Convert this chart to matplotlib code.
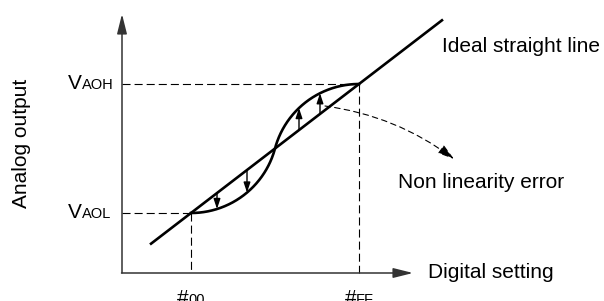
import numpy as np
import matplotlib.pyplot as plt

plt.rcParams['font.family'] = ['Liberation Sans', 'DejaVu Sans']
plt.rcParams['lines.scale_dashes'] = False

# diagram drawn in pixel-like units (y grows downward)
code_x = [191, 359]          # positions of #00 and #FF
code_main = ['#', '#']
code_sub = ['00', 'FF']
level_y = [213, 84]          # V_AOL, V_AOH
level_sub = ['AOL', 'AOH']
ideal_x = [150, 443]         # extent of the ideal straight line
error_x = [217, 247, 299, 320]  # where the error arrows sit

x0, x1 = code_x
y0, y1 = level_y
slope = (y1 - y0) / (x1 - x0)


def ideal(x):
    return y0 + slope * (np.asarray(x) - x0)


# S-shaped real characteristic: two circular arcs, flat at both ends
xm, ym = (x0 + x1) / 2, (y0 + y1) / 2
R = ((xm - x0) ** 2 + (y0 - ym) ** 2) / (2 * (y0 - ym))


def real(x):
    x = np.asarray(x, dtype=float)
    low = (y0 - R) + np.sqrt(np.clip(R ** 2 - (x - x0) ** 2, 0, None))
    high = (y1 + R) - np.sqrt(np.clip(R ** 2 - (x1 - x) ** 2, 0, None))
    return np.where(x <= xm, low, high)


fig = plt.figure(figsize=(6.04, 3.01), dpi=100)
ax = fig.add_axes([0, 0, 1, 1])
ax.set_xlim(0, 604)
ax.set_ylim(301, 0)
ax.axis('off')

axis_col = '#333333'
head = '-|>,head_length=1.2,head_width=0.3'
ax.annotate('', xy=(122, 14), xytext=(122, 273),
            arrowprops=dict(arrowstyle=head, mutation_scale=10, lw=1.1,
                            color=axis_col, shrinkA=0, shrinkB=0))
ax.annotate('', xy=(413, 273), xytext=(121.5, 273),
            arrowprops=dict(arrowstyle=head, mutation_scale=10, lw=1.1,
                            color=axis_col, shrinkA=0, shrinkB=0))

# dashed guides
dash = (0, (5.8, 2.9))
for x, y in zip(code_x, level_y):
    ax.plot([122, x], [y, y], color='black', lw=0.8, ls=dash)
    ax.plot([x, x], [y, 273], color='black', lw=0.8, ls=dash)

# ideal line and real curve
ax.plot(ideal_x, ideal(ideal_x), color='black', lw=1.9, solid_capstyle='butt')
xs = np.linspace(x0, x1, 400)
ax.plot(xs, real(xs), color='black', lw=1.9)

# error arrows from the ideal line to the curve
for x in error_x:
    ax.annotate('', xy=(x, real(x)), xytext=(x, ideal(x)),
                arrowprops=dict(arrowstyle='-|>,head_length=0.6,head_width=0.2',
                                mutation_scale=10, lw=1.0, color='black',
                                shrinkA=0, shrinkB=0))

# dashed pointer to the label
ax.annotate('', xy=(454, 159), xytext=(325, 106),
            arrowprops=dict(arrowstyle='-|>,head_length=1.0,head_width=0.3',
                            mutation_scale=10, lw=0.8, color='black',
                            linestyle=(0, (4, 3)), shrinkA=0, shrinkB=0,
                            connectionstyle='arc3,rad=-0.13'))

fs = 15
ax.text(442, 47, 'Ideal straight line', fontsize=fs, ha='left', va='center')
ax.text(398, 183, 'Non linearity error', fontsize=fs, ha='left', va='center')
ax.text(428, 273, 'Digital setting', fontsize=fs, ha='left', va='center')
ax.text(22, 143, 'Analog output', fontsize=fs, ha='center', va='center',
        rotation=90)

for y, sub in zip(level_y, level_sub):
    ax.text(68, y + 5, 'V', fontsize=fs, ha='left', va='baseline')
    ax.text(82, y + 5, sub, fontsize=10.5, ha='left', va='baseline')

for x, m, sub in zip(code_x, code_main, code_sub):
    ax.text(x - 14, 304, m, fontsize=fs, ha='left', va='baseline')
    ax.text(x - 3, 304, sub, fontsize=10.5, ha='left', va='baseline')

fig.savefig('out.png', dpi=100)
